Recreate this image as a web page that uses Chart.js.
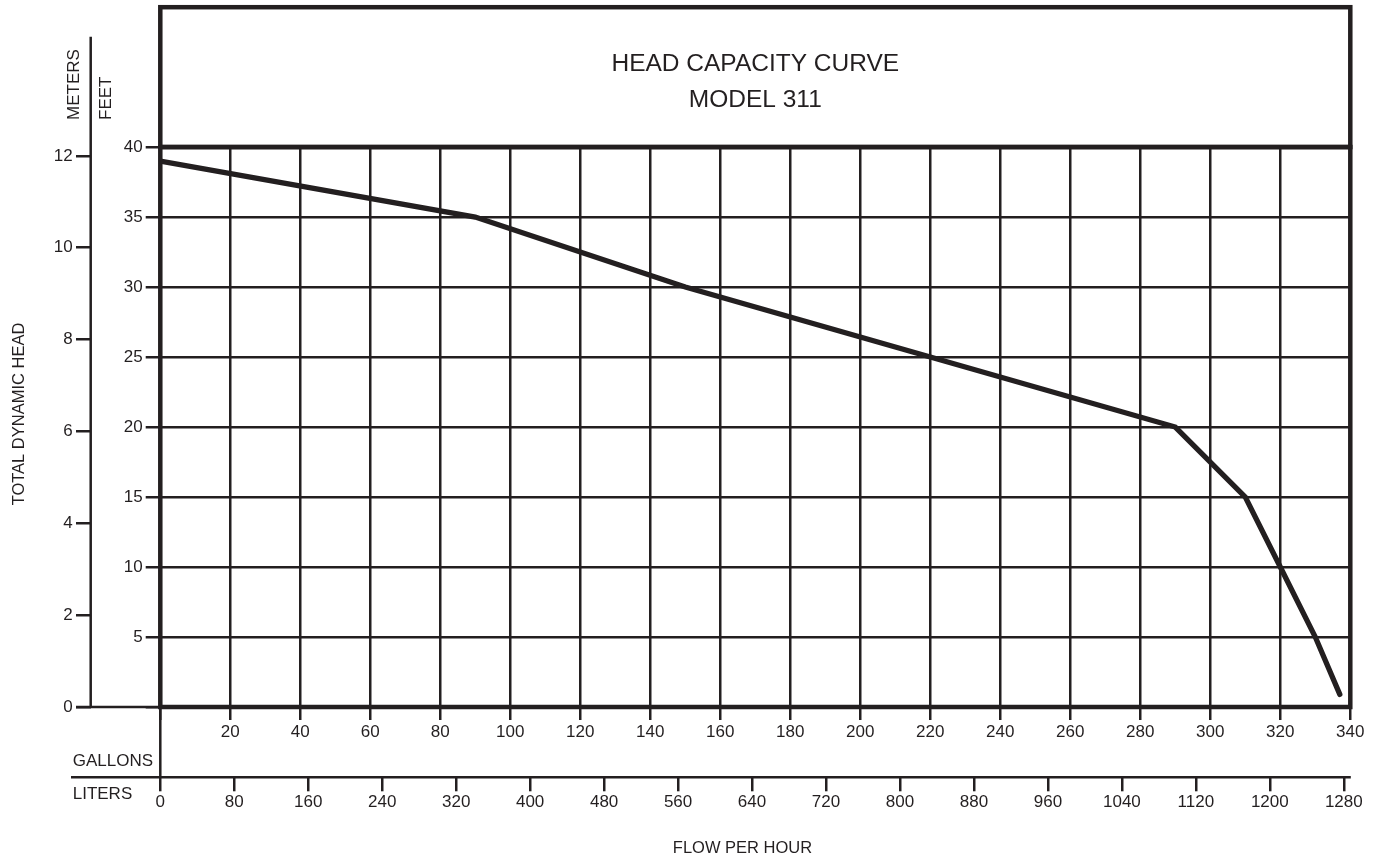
<!DOCTYPE html>
<html>
<head>
<meta charset="utf-8">
<title>Head Capacity Curve - Model 311</title>
<script src="https://cdn.jsdelivr.net/npm/chart.js@4.4.1/dist/chart.umd.min.js"></script>
<style>
  html, body { margin: 0; padding: 0; background: #fff; }
</style>
</head>
<body>
<canvas id="headCurve" width="1377" height="860"></canvas>
<script>
// curve points (gallons per hour -> feet of head)
const flowGallons = [0, 90, 150, 220, 290, 310, 320, 330, 337];
const headFeet = [39, 35, 30, 25, 20, 15, 10, 5, 0.9];

// tick labels for the four axes
const gallonTicks = [0, 20, 40, 60, 80, 100, 120, 140, 160, 180, 200, 220, 240, 260, 280, 300, 320, 340];
const literTicks = [0, 80, 160, 240, 320, 400, 480, 560, 640, 720, 800, 880, 960, 1040, 1120, 1200, 1280];
const feetTicks = [0, 5, 10, 15, 20, 25, 30, 35, 40];
const meterTicks = [0, 2, 4, 6, 8, 10, 12];

// unit conversions so the second axes line up with the first ones
const FT_PER_M = 3.28084;
const L_PER_GAL = 3.78541;

const ink = '#231f20';
const fontName = "'Liberation Sans', Arial, Helvetica, sans-serif";
const tickFont = { family: fontName, size: 17, lineHeight: 1 };

function useTicks(list) {
    return function (scale) {
        scale.ticks = list.map(v => ({ value: v }));
    };
}

// plain numbers, no thousands separator
function plainLabel(v) {
    return String(v);
}

// frame, extra axis lines and the side labels
const sheetDecor = {
    id: 'sheetDecor',
    beforeDatasetsDraw(chart) {
        const ctx = chart.ctx;
        const area = chart.chartArea;
        const meters = chart.scales.meters;
        const liters = chart.scales.liters;

        ctx.save();
        ctx.strokeStyle = ink;
        ctx.lineCap = 'butt';

        // thin axis lines
        ctx.lineWidth = 2.5;
        ctx.beginPath();
        ctx.moveTo(meters.right, 36.7);
        ctx.lineTo(meters.right, area.bottom);
        ctx.moveTo(76, area.bottom);
        ctx.lineTo(area.left, area.bottom);
        ctx.moveTo(area.left, area.bottom);
        ctx.lineTo(area.left, liters.top);
        ctx.moveTo(71, liters.top);
        ctx.lineTo(area.right + 0.5, liters.top);
        ctx.stroke();

        // heavy frames: title box and plot box
        ctx.lineWidth = 4.5;
        ctx.lineJoin = 'miter';
        ctx.strokeRect(area.left, 7.2, area.right - area.left, area.top - 7.2);
        ctx.strokeRect(area.left, area.top, area.right - area.left, area.bottom - area.top);
        ctx.restore();
    },
    afterDraw(chart) {
        const ctx = chart.ctx;
        ctx.save();
        ctx.fillStyle = ink;
        ctx.font = '17px ' + fontName;
        ctx.textBaseline = 'middle';

        // rotated labels
        ctx.save();
        ctx.translate(74, 120);
        ctx.rotate(-Math.PI / 2);
        ctx.textAlign = 'left';
        ctx.fillText('METERS', 0, 0);
        ctx.restore();

        ctx.save();
        ctx.translate(106.5, 120);
        ctx.rotate(-Math.PI / 2);
        ctx.textAlign = 'left';
        ctx.fillText('FEET', 0, 0);
        ctx.restore();

        ctx.save();
        ctx.translate(19, 414);
        ctx.rotate(-Math.PI / 2);
        ctx.textAlign = 'center';
        ctx.font = '16.5px ' + fontName;
        ctx.fillText('TOTAL DYNAMIC HEAD', 0, 0);
        ctx.restore();

        ctx.textAlign = 'left';
        ctx.fillText('GALLONS', 72.7, 761);
        ctx.fillText('LITERS', 72.7, 794);
        ctx.textAlign = 'center';
        ctx.font = '16.5px ' + fontName;
        ctx.fillText('FLOW PER HOUR', 742.5, 848);
        ctx.restore();
    }
};

const curvePoints = flowGallons.map((g, i) => ({ x: g, y: headFeet[i] }));

new Chart(document.getElementById('headCurve'), {
    type: 'line',
    data: {
        datasets: [{
            label: 'Model 311',
            data: curvePoints,
            xAxisID: 'x',
            yAxisID: 'y',
            borderColor: ink,
            borderWidth: 5.3,
            borderCapStyle: 'round',
            borderJoinStyle: 'miter',
            pointRadius: 0,
            tension: 0,
            fill: false
        }]
    },
    options: {
        responsive: false,
        animation: false,
        devicePixelRatio: 1,
        layout: { padding: { left: 0, right: 26.7, top: 0, bottom: 0 } },
        plugins: {
            legend: { display: false },
            tooltip: { enabled: false },
            title: {
                display: true,
                fullSize: false,
                text: ['HEAD CAPACITY CURVE', 'MODEL 311'],
                color: ink,
                font: { family: fontName, size: 24.5, weight: 'normal', lineHeight: 1.45 },
                padding: { top: 46.75, bottom: 29.25 }
            }
        },
        scales: {
            x: {
                type: 'linear',
                position: 'bottom',
                min: 0,
                max: 340,
                afterBuildTicks: useTicks(gallonTicks),
                afterFit: s => { s.height = 70.3; },
                grid: { color: ink, lineWidth: 2.5, tickLength: 13 },
                border: { display: false },
                ticks: {
                    color: ink, font: tickFont, padding: 4, maxRotation: 0, autoSkip: false,
                    callback: v => (v === 0 ? '' : plainLabel(v))
                }
            },
            liters: {
                type: 'linear',
                axis: 'x',
                position: 'bottom',
                weight: 1,
                min: 0,
                max: 340 * L_PER_GAL,
                afterBuildTicks: useTicks(literTicks),
                afterFit: s => { s.height = 82.7; },
                grid: { drawOnChartArea: false, color: ink, lineWidth: 2.5, tickLength: 14 },
                border: { display: false },
                ticks: { color: ink, font: tickFont, padding: 2.2, maxRotation: 0, autoSkip: false, callback: plainLabel }
            },
            y: {
                type: 'linear',
                position: 'left',
                min: 0,
                max: 40,
                afterBuildTicks: useTicks(feetTicks),
                afterFit: s => { s.width = 69.6; },
                grid: { color: ink, lineWidth: 2.5, tickLength: 14.6 },
                border: { display: false },
                ticks: {
                    color: ink, font: tickFont, padding: 3,
                    callback: v => (v === 0 ? '' : plainLabel(v))
                }
            },
            meters: {
                type: 'linear',
                axis: 'y',
                position: 'left',
                weight: 1,
                min: 0,
                max: 40 / FT_PER_M,
                afterBuildTicks: useTicks(meterTicks),
                afterFit: s => { s.width = 90.7; },
                grid: { drawOnChartArea: false, color: ink, lineWidth: 2.5, tickLength: 14.7 },
                border: { display: false },
                ticks: { color: ink, font: tickFont, padding: 3.3, callback: plainLabel }
            }
        }
    },
    plugins: [sheetDecor]
});
</script>
</body>
</html>
